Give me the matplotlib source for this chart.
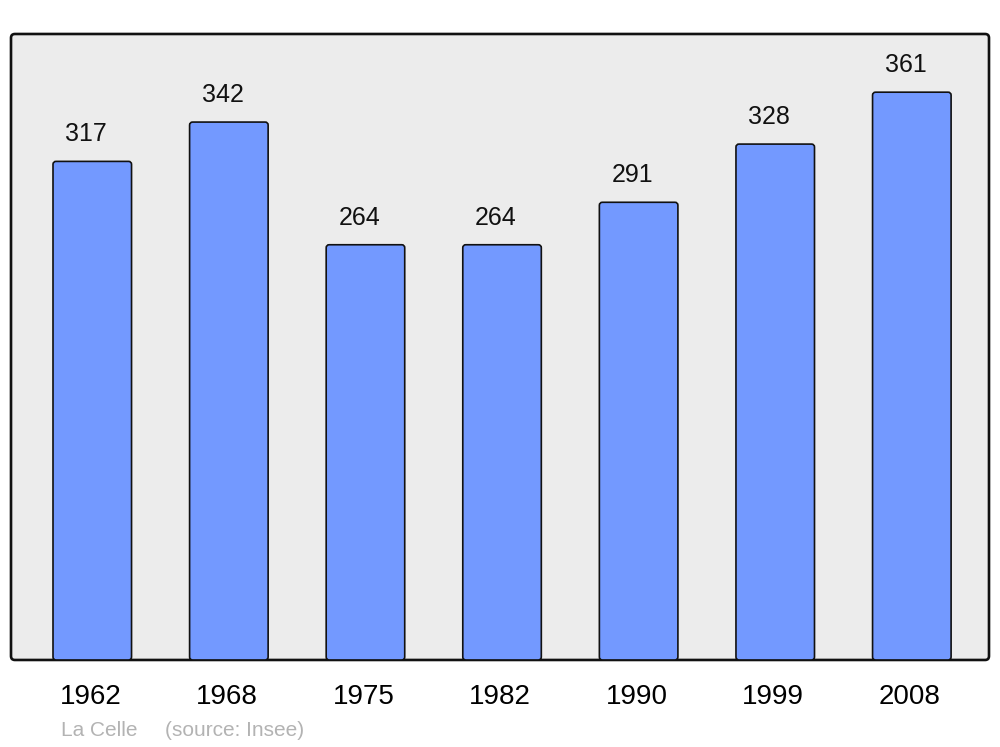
import matplotlib
matplotlib.use('Agg')
import matplotlib.pyplot as plt
import matplotlib.transforms as mtransforms
from matplotlib.patches import FancyBboxPatch

years = ['1962', '1968', '1975', '1982', '1990', '1999', '2008']
population = [317, 342, 264, 264, 291, 328, 361]

plt.rcParams['font.family'] = ['Liberation Sans', 'DejaVu Sans']

fig = plt.figure(figsize=(10, 7.47), dpi=100)
ax = fig.add_axes([0.011, 0.1165, 0.978, 0.838])
ax.set_xlim(-0.595, 6.565)
ax.set_ylim(0, 398)
ax.set_facecolor('none')
for s in ax.spines.values():
    s.set_visible(False)

# rounded frame / background
frame = FancyBboxPatch((0, 0), 1, 1, boxstyle='round,pad=0,rounding_size=0.004',
                       mutation_aspect=1.56, transform=ax.transAxes,
                       facecolor='#ececec', edgecolor='#111111', linewidth=1.9,
                       clip_on=False, zorder=0)
ax.add_patch(frame)

x = range(len(years))
bars = ax.bar(x, population, width=0.575)
# px -> data scale for rounded corners
aspect = (1 / 1.573) / (1 / 136.6)
for b in bars:
    b.set_visible(False)
    rb = FancyBboxPatch((b.get_x(), b.get_y()), b.get_width(), b.get_height(),
                        boxstyle='round,pad=0,rounding_size=0.022',
                        mutation_aspect=aspect, facecolor='#7399ff',
                        edgecolor='#111111', linewidth=1.2, zorder=2)
    ax.add_patch(rb)

for xi, v in zip(x, population):
    ax.annotate(str(v), (xi, v), xytext=(-4.5, 19.5), textcoords='offset points',
                ha='center', va='center', fontsize=18, color='#111111')

ax.set_xticks(list(x))
ax.set_xticklabels(years, fontsize=20)
ax.tick_params(axis='x', length=0, pad=17)
shift = mtransforms.ScaledTranslation(-2 / 100, 0, fig.dpi_scale_trans)
for lbl in ax.get_xticklabels():
    lbl.set_transform(lbl.get_transform() + shift)
ax.set_yticks([])

fig.text(0.061, 0.0225, 'La Celle', fontsize=15, color='#b3b3b3', va='center')
fig.text(0.165, 0.0225, '(source: Insee)', fontsize=15, color='#b3b3b3', va='center')

fig.savefig('out.png', dpi=100)
